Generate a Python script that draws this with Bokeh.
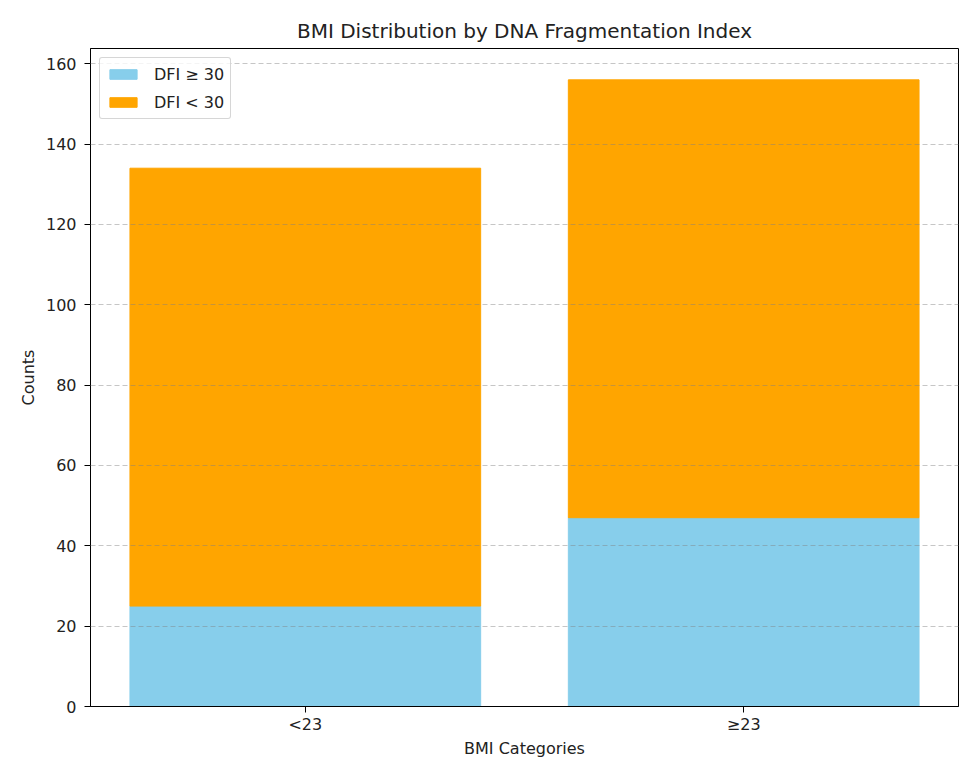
from bokeh.plotting import figure
from bokeh.models import Range1d, FixedTicker, SingleIntervalTicker, ColumnDataSource
from bokeh.embed import file_html
from bokeh.resources import INLINE

# ---- data ----
categories = ["<23", "≥23"]
dfi_high = [25, 47]      # DFI ≥ 30
dfi_low = [109, 109]     # DFI < 30
series_names = ["DFI ≥ 30", "DFI < 30"]
colors = ["#87CEEB", "#FFA500"]
y_ticks_interval = 20

x = list(range(len(categories)))
totals = [a + b for a, b in zip(dfi_high, dfi_low)]
source = ColumnDataSource(dict(x=x, high=dfi_high, low=dfi_low))

FONT = "DejaVu Sans"

p = figure(width=960, height=771, output_backend="svg", toolbar_location=None,
           x_range=Range1d(-0.49, len(categories) - 1 + 0.49),
           y_range=Range1d(0, max(totals) * 1.05),
           min_border_left=90, min_border_right=2, min_border_top=48, min_border_bottom=65,
           title="BMI Distribution by DNA Fragmentation Index")

p.vbar_stack(["high", "low"], x="x", width=0.8, color=colors, source=source,
             legend_label=series_names)

# title
p.title.align = "center"
p.title.text_font = FONT
p.title.text_font_size = "20px"
p.title.text_font_style = "normal"
p.title.text_color = "#222222"
p.title.standoff = 12

# axes
p.xaxis.ticker = FixedTicker(ticks=x)
p.xaxis.major_label_overrides = {i: c for i, c in enumerate(categories)}
p.yaxis.ticker = SingleIntervalTicker(interval=y_ticks_interval)
p.xaxis.axis_label = "BMI Categories"
p.yaxis.axis_label = "Counts"
for ax in (p.xaxis, p.yaxis):
    ax.axis_label_text_font = FONT
    ax.axis_label_text_font_size = "16px"
    ax.axis_label_text_font_style = "normal"
    ax.axis_label_text_color = "#222222"
    ax.major_label_text_font = FONT
    ax.major_label_text_font_size = "16px"
    ax.major_label_text_color = "#222222"
    ax.axis_line_color = "black"
    ax.major_tick_line_color = "black"
    ax.major_tick_out = 6
    ax.major_tick_in = 0
    ax.minor_tick_line_color = None
p.xaxis.major_label_standoff = 2
p.xaxis.axis_label_standoff = 2
p.yaxis.major_label_standoff = 8
p.yaxis.axis_label_standoff = 5

# grid
p.xgrid.visible = False
p.ygrid.grid_line_color = "gray"
p.ygrid.grid_line_alpha = 0.45
p.ygrid.grid_line_dash = "5 3"
p.ygrid.level = "guide"

p.outline_line_color = "black"
p.outline_line_alpha = 1.0

# legend
lg = p.legend[0]
lg.location = "top_left"
lg.margin = 9
lg.padding = 6
lg.spacing = 8
lg.label_height = 20
lg.glyph_width = 34
lg.glyph_height = 12
lg.label_standoff = 14
lg.label_text_font = FONT
lg.label_text_font_size = "16px"
lg.label_text_color = "#222222"
lg.border_line_color = "#cccccc"
lg.border_line_alpha = 0.8
lg.border_radius = 3
lg.background_fill_alpha = 0.8

open("out.html", "w").write(file_html(p, INLINE))
